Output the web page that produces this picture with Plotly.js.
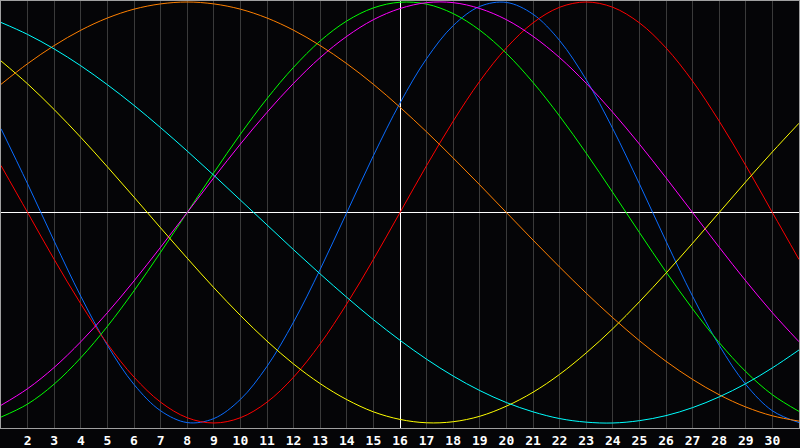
<!DOCTYPE html>
<html>
<head>
<meta charset="utf-8">
<script src="https://cdn.plot.ly/plotly-3.0.1.min.js"></script>
<style>
  html, body { margin: 0; padding: 0; background: #050507; }
  #chart { width: 800px; height: 448px; }
</style>
</head>
<body>
<div id="chart"></div>
<script>
// Days of the month shown on the x axis
const days = [1,2,3,4,5,6,7,8,9,10,11,12,13,14,15,16,17,18,19,20,21,22,23,24,25,26,27,28,29,30,31];
const tickDays = [2,3,4,5,6,7,8,9,10,11,12,13,14,15,16,17,18,19,20,21,22,23,24,25,26,27,28,29,30];
const tickLabels = ["2","3","4","5","6","7","8","9","10","11","12","13","14","15","16","17","18","19","20","21","22","23","24","25","26","27","28","29","30"];
const today = 16;

// Cycle values per day, range -1 .. 1
const physical = [0.398,0.136,-0.136,-0.398,-0.631,-0.817,-0.942,-0.998,-0.979,-0.888,-0.731,-0.520,-0.270,0,0.270,0.520,0.731,0.888,0.979,0.998,0.942,0.817,0.631,0.398,0.136,-0.136,-0.398,-0.631,-0.817,-0.942,-0.998];
const emotional = [0.223,0,-0.223,-0.434,-0.624,-0.782,-0.901,-0.975,-1.000,-0.975,-0.901,-0.782,-0.624,-0.434,-0.223,0,0.223,0.434,0.624,0.782,0.901,0.975,1.000,0.975,0.901,0.782,0.624,0.434,0.223,0,-0.223];
const intellectual = [-0.972,-0.910,-0.815,-0.690,-0.541,-0.372,-0.189,0,0.189,0.372,0.541,0.690,0.815,0.910,0.972,0.999,0.990,0.945,0.866,0.756,0.618,0.458,0.282,0.095,-0.095,-0.282,-0.458,-0.618,-0.756,-0.866,-0.945];
const intuitive = [-0.916,-0.837,-0.736,-0.614,-0.476,-0.325,-0.165,0,0.165,0.325,0.476,0.614,0.736,0.837,0.916,0.969,0.997,0.997,0.969,0.916,0.837,0.736,0.614,0.476,0.325,0.165,0,-0.165,-0.325,-0.476,-0.614];
const aesthetic = [0.720,0.611,0.489,0.357,0.217,0.073,-0.073,-0.217,-0.357,-0.489,-0.611,-0.720,-0.813,-0.889,-0.947,-0.983,-0.999,-0.994,-0.968,-0.920,-0.854,-0.769,-0.667,-0.552,-0.424,-0.288,-0.146,0,0.146,0.288,0.424];
const awareness = [0.609,0.707,0.793,0.866,0.924,0.966,0.991,1.000,0.991,0.966,0.924,0.866,0.793,0.707,0.609,0.500,0.383,0.259,0.131,0,-0.131,-0.259,-0.383,-0.500,-0.609,-0.707,-0.793,-0.866,-0.924,-0.966,-0.991];
const spiritual = [0.903,0.846,0.777,0.697,0.607,0.509,0.403,0.292,0.177,0.059,-0.059,-0.177,-0.292,-0.403,-0.509,-0.607,-0.697,-0.777,-0.846,-0.903,-0.947,-0.979,-0.996,-1.000,-0.989,-0.965,-0.927,-0.876,-0.813,-0.738,-0.653];

const seriesNames = ["Physical","Emotional","Intellectual","Intuitive","Aesthetic","Awareness","Spiritual"];
const seriesValues = [physical, emotional, intellectual, intuitive, aesthetic, awareness, spiritual];
const seriesColors = ["#0a6cff","#ff0000","#00ff00","#ff00ff","#ffff00","#ff8000","#00ffff"];

const yMin = -1.0238, yMax = 1.0048;

// half-pixel nudge so the 1px "today" line renders crisp
const pxPerDay = 798 / 30;
const todayLineX = today + 0.5 / pxPerDay;

// "today" marker line, drawn first so the curves sit on top of it
const todayTrace = {
  x: [todayLineX, todayLineX],
  y: [yMin - 1, yMax + 1],
  type: "scatter",
  mode: "lines",
  line: { color: "#ffffff", width: 1 },
  hoverinfo: "skip",
  cliponaxis: true
};

const traces = [todayTrace].concat(seriesValues.map((vals, i) => ({
  x: days,
  y: vals,
  name: seriesNames[i],
  type: "scatter",
  mode: "lines",
  line: { color: seriesColors[i], width: 1, shape: "spline", smoothing: 1 },
  hoverinfo: "skip"
})));

const layout = {
  width: 800,
  height: 448,
  margin: { l: 1, r: 1, t: 1, b: 20, pad: 0 },
  paper_bgcolor: "#050507",
  plot_bgcolor: "#050507",
  showlegend: false,
  xaxis: {
    range: [1, 31],
    tickmode: "array",
    tickvals: tickDays,
    ticktext: tickLabels,
    showgrid: true,
    gridcolor: "#3a3a3a",
    gridwidth: 1,
    zeroline: false,
    showline: true,
    linecolor: "#a0a0a0",
    linewidth: 1,
    mirror: true,
    ticks: "",
    tickfont: { family: "DejaVu Sans Mono, monospace", size: 13, color: "#ffffff", weight: "bold" },
    fixedrange: true
  },
  yaxis: {
    range: [yMin, yMax],
    showgrid: false,
    zeroline: true,
    zerolinecolor: "#ffffff",
    zerolinewidth: 1,
    showticklabels: false,
    ticks: "",
    showline: true,
    linecolor: "#a0a0a0",
    linewidth: 1,
    mirror: true,
    fixedrange: true
  }
};

Plotly.newPlot("chart", traces, layout, { staticPlot: true, displayModeBar: false });
</script>
</body>
</html>
